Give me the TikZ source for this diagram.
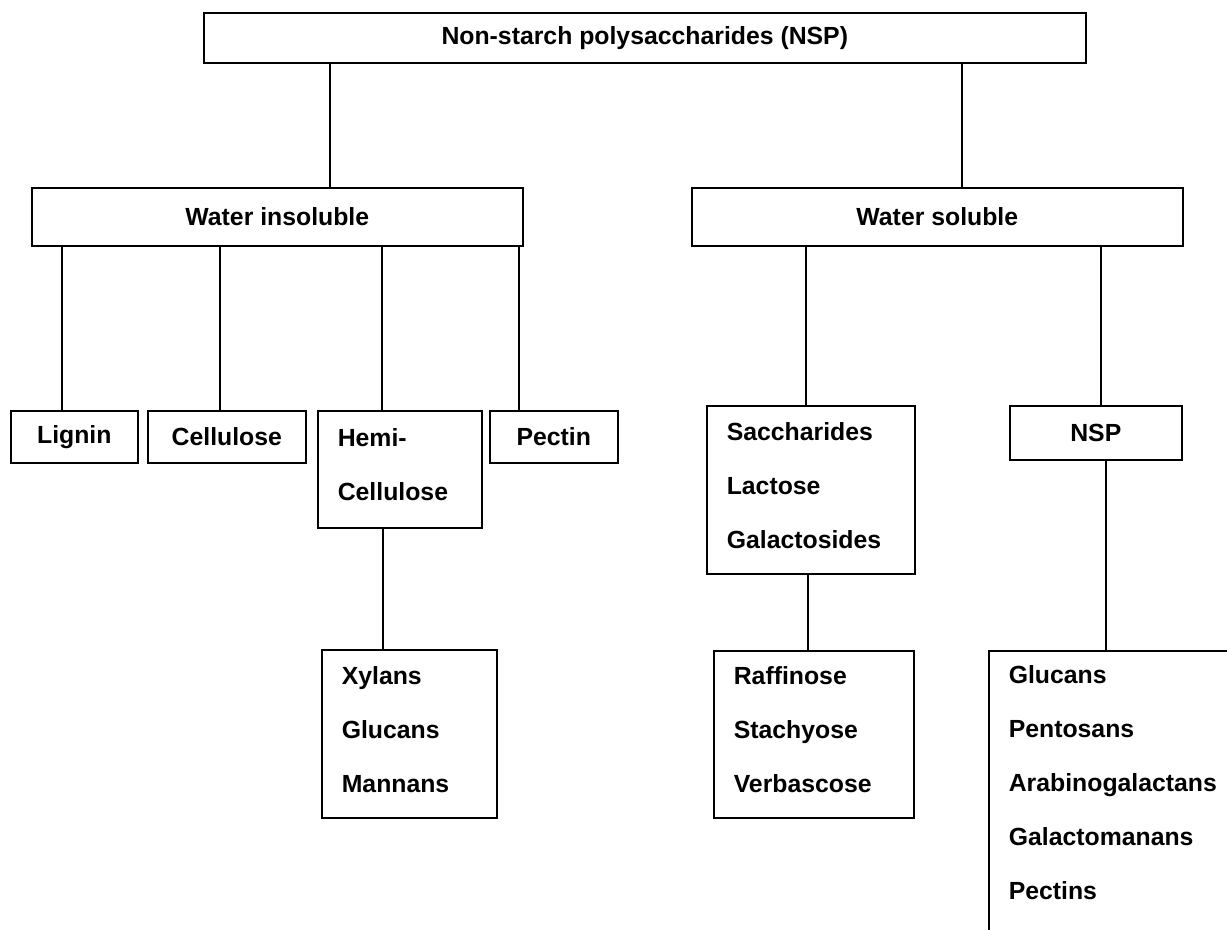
\documentclass[tikz,border=0pt]{standalone}
\usepackage{fontspec}
\setmainfont{Liberation Sans}
\usetikzlibrary{positioning}

\tikzset{
    box/.style={draw, line width=0.8pt, inner sep=0pt, anchor=north west,
        font=\fontsize{12.4pt}{27pt}\selectfont\bfseries},
    listbox/.style={box, align=left, inner xsep=10pt, text height=9pt},
    link/.style={line width=0.6pt}
}

\begin{document}
\begin{tikzpicture}[x=0.5pt, y=-0.5pt]
        \path[use as bounding box, clip] (0,0) rectangle (1227,930);

        \node[box, minimum width=441pt, minimum height=25pt] (nsp) at (203,12) {Non-starch polysaccharides (NSP)};

        \node[box, minimum width=245.5pt, minimum height=29pt] (insol) at (31,187) {Water insoluble};
        \node[box, minimum width=245.5pt, minimum height=29pt] (sol) at (691,187) {Water soluble};

        \node[box, minimum width=63.5pt, minimum height=26pt] (lignin) at (10,410) {Lignin};
        \node[box, minimum width=79pt, minimum height=26pt] (cellu) at (147,410) {Cellulose};
        \node[listbox, text width=62pt, inner ysep=9pt, text depth=31.5pt] (hemi) at (317,410) {Hemi-\\Cellulose};
        \node[box, minimum width=64pt, minimum height=26pt] (pectin) at (489,410) {Pectin};

        \node[listbox, text width=84pt, inner ysep=8.5pt, text depth=58pt] (sacch) at (706,405) {Saccharides\\Lactose\\Galactosides};
        \node[box, minimum width=86pt, minimum height=27pt] (nspsol) at (1009,405) {NSP};

        \node[listbox, text width=67.5pt, inner ysep=8.5pt, text depth=58pt] (xylans) at (321,649) {Xylans\\Glucans\\Mannans};
        \node[listbox, text width=80pt, inner ysep=8pt, text depth=58.5pt] (raffin) at (713,650) {Raffinose\\Stachyose\\Verbascose};
        \node[listbox, text width=130pt, inner ysep=7.5pt, text depth=120pt] (glucans) at (988,650) {Glucans\\Pentosans\\Arabinogalactans\\Galactomanans\\Pectins};

        \draw[link] (nsp.south -| 330,0) -- (insol.north -| 330,0);
        \draw[link] (nsp.south -| 962,0) -- (sol.north -| 962,0);
        \foreach \x/\n in {62/lignin, 220/cellu, 382/hemi, 519/pectin}
            \draw[link] (insol.south -| \x,0) -- (\n.north -| \x,0);
        \draw[link] (sol.south -| 806,0) -- (sacch.north -| 806,0);
        \draw[link] (sol.south -| 1101,0) -- (nspsol.north -| 1101,0);
        \draw[link] (hemi.south -| 383,0) -- (xylans.north -| 383,0);
        \draw[link] (sacch.south -| 808,0) -- (raffin.north -| 808,0);
        \draw[link] (nspsol.south -| 1106,0) -- (glucans.north -| 1106,0);
    \end{tikzpicture}
\end{document}
